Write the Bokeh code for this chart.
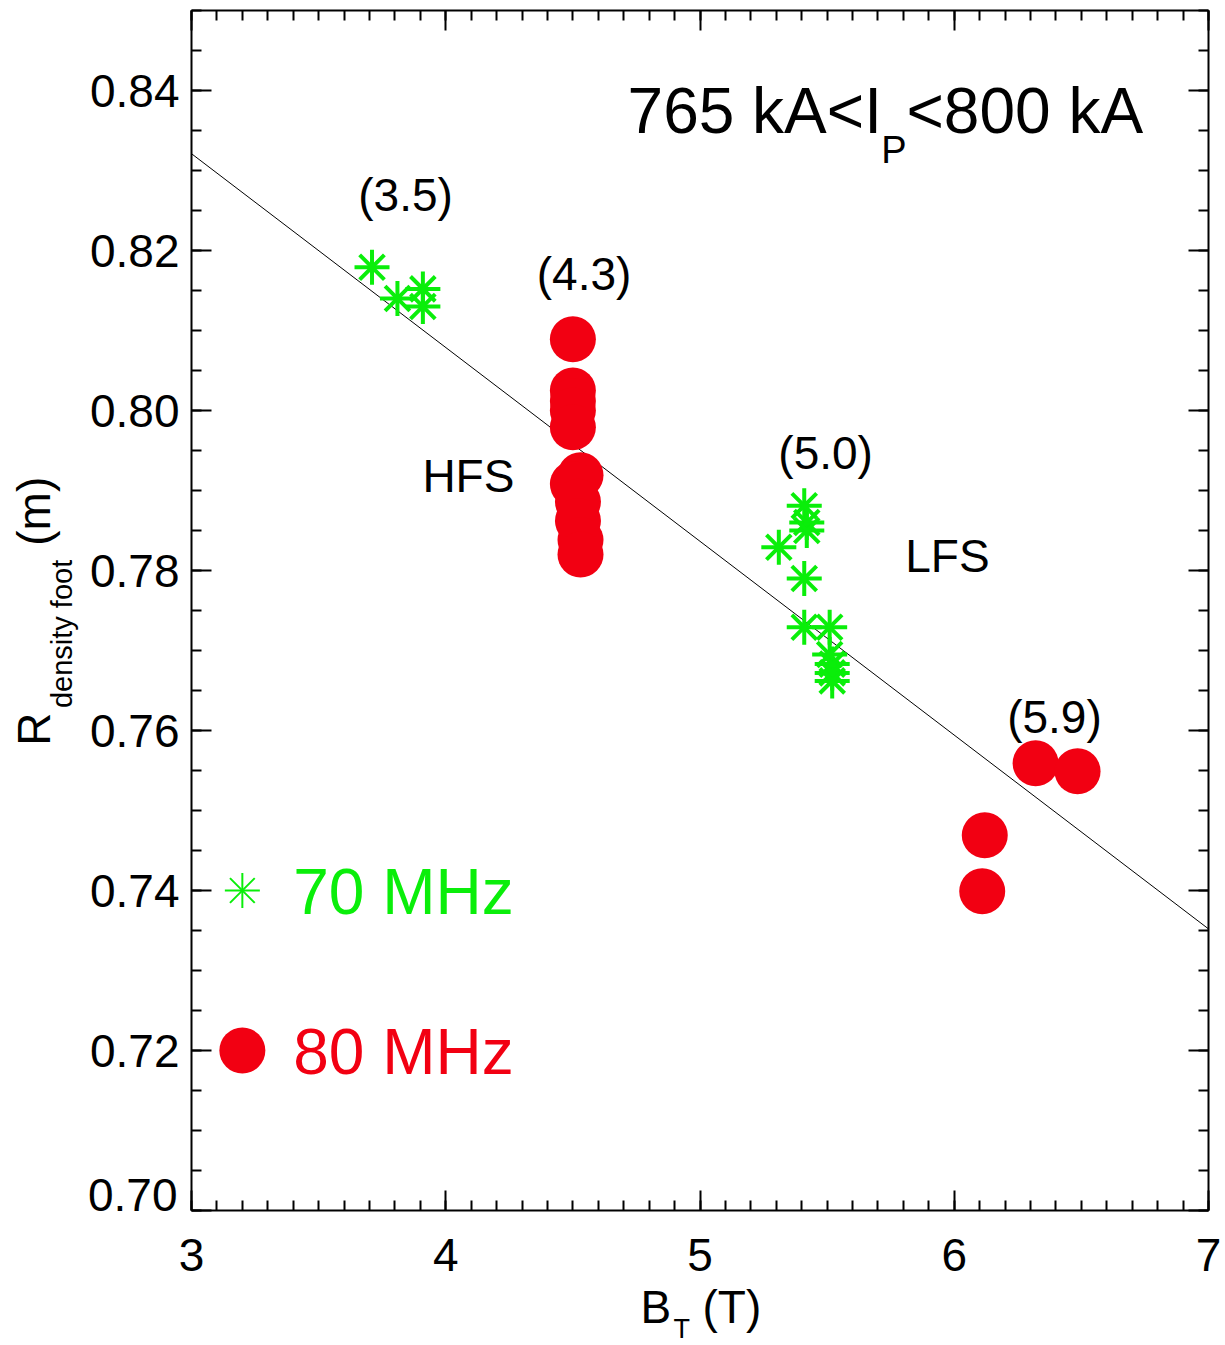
from bokeh.plotting import figure
from bokeh.models import Range1d, LinearAxis, FixedTicker, Label, CustomJSTickFormatter
from bokeh.embed import file_html
from bokeh.resources import INLINE
import numpy as np

# ---- data -------------------------------------------------------------
# 70 MHz reflectometer channel
bt_70 = [3.71, 3.81, 3.91, 3.91,
         5.41, 5.42, 5.42, 5.31, 5.41, 5.41,
         5.51, 5.51, 5.52, 5.52, 5.52]
r_70 = [0.8179, 0.8140, 0.8152, 0.8130,
        0.7881, 0.7860, 0.7850, 0.7829, 0.7790, 0.7729,
        0.7729, 0.7695, 0.7683, 0.7672, 0.7662]

# 80 MHz reflectometer channel
bt_80 = [4.50, 4.50, 4.50, 4.50, 4.50,
         4.53, 4.50, 4.52, 4.52, 4.53, 4.53,
         6.32, 6.485, 6.12, 6.11]
r_80 = [0.8089, 0.8025, 0.8012, 0.8000, 0.7979,
        0.7919, 0.7908, 0.7886, 0.7862, 0.7838, 0.7820,
        0.7559, 0.7549, 0.7469, 0.7399]

# linear fit through both channels
fit_bt = [3.0, 7.0]
fit_r = [0.8321, 0.7352]

# group labels (nominal field in T) and their anchor points
group_text = ["(3.5)", "(4.3)", "(5.0)", "(5.9)"]
group_bt = [3.842, 4.544, 5.494, 6.394]
group_r = [0.8249, 0.8150, 0.7926, 0.7596]

x_ticks = [3, 4, 5, 6, 7]
y_ticks = [0.70, 0.72, 0.74, 0.76, 0.78, 0.80, 0.82, 0.84]
y_tick_labels = ["0.70", "0.72", "0.74", "0.76", "0.78", "0.80", "0.82", "0.84"]

X_MIN, X_MAX = 3.0, 7.0
Y_MIN, Y_MAX = 0.70, 0.85

GREEN = "#0aee0a"
RED = "#f20012"
FONT = "Liberation Sans"

# ---- canvas geometry: the data box sits inside a full-canvas frame -----
W, H = 1225, 1345
BOX_L, BOX_R, BOX_T, BOX_B = 191, 17, 10, 135
px_per_x = (W - BOX_L - BOX_R) / (X_MAX - X_MIN)
px_per_y = (H - BOX_T - BOX_B) / (Y_MAX - Y_MIN)
x_lo = X_MIN - BOX_L / px_per_x
x_hi = X_MAX + BOX_R / px_per_x
y_lo = Y_MIN - BOX_B / px_per_y
y_hi = Y_MAX + BOX_T / px_per_y

p = figure(width=W, height=H,
           x_range=Range1d(x_lo, x_hi), y_range=Range1d(y_lo, y_hi),
           x_axis_location=None, y_axis_location=None,
           min_border=0, output_backend="svg", toolbar_location=None)
p.grid.visible = False
p.outline_line_color = None
p.background_fill_color = "white"
p.border_fill_color = "white"

x_minor = list(np.round(np.arange(X_MIN, X_MAX + 1e-4, 0.1), 3))
y_minor = list(np.round(np.arange(Y_MIN, Y_MAX + 1e-5, 0.005), 4))

blank = CustomJSTickFormatter(code="return ''")


def make_axis(ticks, minor, bounds, loc, labelled):
    ax = LinearAxis(fixed_location=loc, bounds=bounds,
                    ticker=FixedTicker(ticks=ticks, minor_ticks=minor))
    ax.major_tick_in = 20
    ax.major_tick_out = 0
    ax.minor_tick_in = 10
    ax.minor_tick_out = 0
    for attr in ("axis_line", "major_tick_line", "minor_tick_line"):
        setattr(ax, attr + "_width", 2)
        setattr(ax, attr + "_color", "black")
    ax.major_label_text_font = FONT
    ax.major_label_text_font_size = "46px"
    ax.major_label_text_color = "black"
    if not labelled:
        ax.formatter = blank
        ax.major_label_text_font_size = "1px"
        ax.major_label_standoff = 0
    return ax


x_bottom = make_axis(x_ticks, x_minor, (X_MIN, X_MAX), Y_MIN, True)
x_bottom.major_label_standoff = 28
p.add_layout(x_bottom, "below")

x_top = make_axis(x_ticks, x_minor, (X_MIN, X_MAX), Y_MAX, False)
p.add_layout(x_top, "above")

y_left = make_axis(y_ticks, y_minor, (Y_MIN, Y_MAX), X_MIN, True)
y_left.major_label_standoff = 12
overrides = {t: s for t, s in zip(y_ticks, y_tick_labels)}
overrides[y_ticks[0]] = ""
y_left.major_label_overrides = overrides
p.add_layout(y_left, "left")

y_right = make_axis(y_ticks, y_minor, (Y_MIN, Y_MAX), X_MAX, False)
p.add_layout(y_right, "right")

# ---- glyphs -----------------------------------------------------------
p.line(fit_bt, fit_r, line_color="black", line_width=1)

p.scatter(bt_80, r_80, marker="circle", size=46,
          fill_color=RED, line_color=RED, line_width=0)
for mk in ("cross", "x"):
    p.scatter(bt_70, r_70, marker=mk, size=35,
              line_color=GREEN, line_width=4)

# legend markers
leg_bt = [3.2]
for mk in ("cross", "x"):
    p.scatter(leg_bt, [0.74], marker=mk, size=35, line_color=GREEN, line_width=2)
p.scatter(leg_bt, [0.72], marker="circle", size=46,
          fill_color=RED, line_color=RED, line_width=0)

# ---- text ---------------------------------------------------------------
BASE_SHIFT = 0.365   # baseline correction, in em


def add_text(x, y, text, size, color="black", align="left", rotated=False):
    if rotated:
        x = x - BASE_SHIFT * size / px_per_x
        angle = np.pi / 2
    else:
        y = y + BASE_SHIFT * size / px_per_y
        angle = 0.0
    p.add_layout(Label(x=x, y=y, text=text, text_font=FONT,
                       text_font_size=f"{size}px", text_color=color,
                       text_align=align, text_baseline="alphabetic",
                       angle=angle))


add_text(3.40, 0.7369, "70 MHz", 64, GREEN)
add_text(3.40, 0.7169, "80 MHz", 64, RED)

for t, bx, ry in zip(group_text, group_bt, group_r):
    add_text(bx, ry, t, 46, align="center")

add_text(4.089, 0.78975, "HFS", 46, align="center")
add_text(5.973, 0.77975, "LFS", 46, align="center")

# plasma current window
add_text(4.715, 0.8345, "765 kA<I", 64)
add_text(5.713, 0.8308, "P", 38)
add_text(5.812, 0.8345, "<800 kA", 64)

# lowest y tick label sits a little above its tick
add_text(2.945, 0.6998, "0.70", 46, align="right")

# x axis title: B_T (T)
add_text(4.766, 0.6859, "B", 46)
add_text(4.896, 0.6840, "T", 27)
add_text(5.010, 0.6859, "(T)", 46)

# y axis title: R_density foot (m)
add_text(2.4454, 0.7581, "R", 46, rotated=True)
add_text(2.532, 0.7628, "density foot", 29, rotated=True)
add_text(2.4454, 0.7831, "(m)", 46, rotated=True)

open("out.html", "w").write(file_html(p, INLINE))
